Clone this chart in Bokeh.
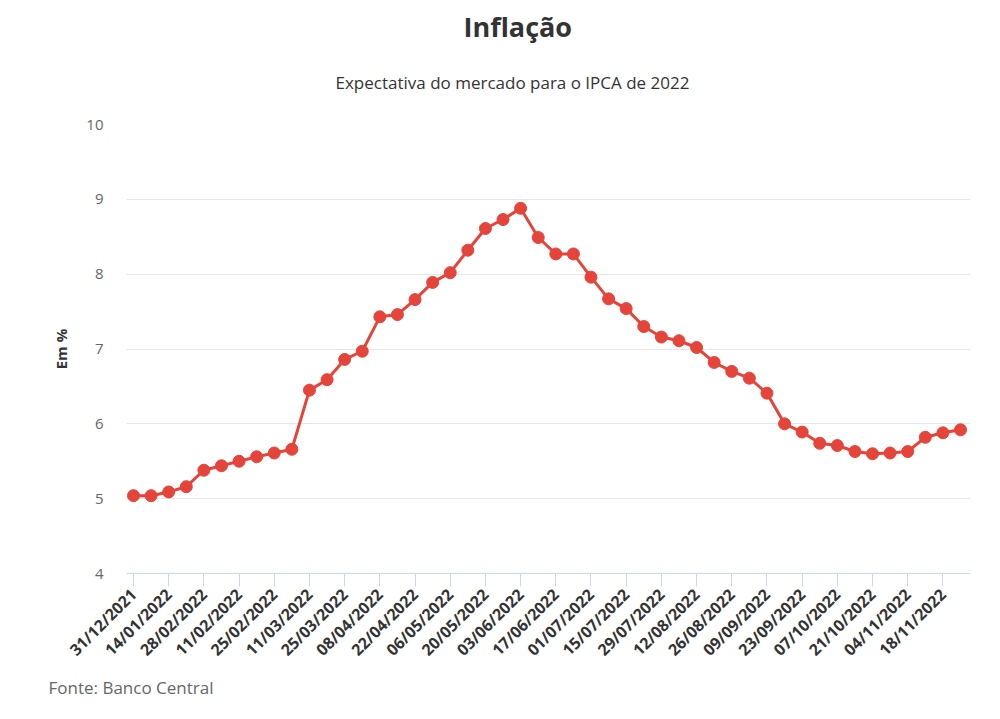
from math import pi
from bokeh.plotting import figure
from bokeh.models import Range1d, FixedTicker, Title, ColumnDataSource
from bokeh.embed import file_html
from bokeh.resources import INLINE

# Weekly market expectation for IPCA 2022 (31/12/2021 .. 25/11/2022)
week_index = list(range(48))
ipca_expect = [5.04, 5.04, 5.09, 5.16, 5.38, 5.44, 5.50, 5.56, 5.61, 5.66,
               6.45, 6.59, 6.86, 6.97, 7.43, 7.46, 7.66, 7.89, 8.02, 8.32,
               8.61, 8.73, 8.88, 8.49, 8.27, 8.27, 7.96, 7.67, 7.54, 7.30,
               7.16, 7.11, 7.02, 6.82, 6.70, 6.61, 6.41, 6.00, 5.89, 5.74,
               5.71, 5.63, 5.60, 5.61, 5.63, 5.82, 5.88, 5.92]

tick_positions = list(range(0, 48, 2))
tick_labels = ["31/12/2021", "14/01/2022", "28/02/2022", "11/02/2022", "25/02/2022",
               "11/03/2022", "25/03/2022", "08/04/2022", "22/04/2022", "06/05/2022",
               "20/05/2022", "03/06/2022", "17/06/2022", "01/07/2022", "15/07/2022",
               "29/07/2022", "12/08/2022", "26/08/2022", "09/09/2022", "23/09/2022",
               "07/10/2022", "21/10/2022", "04/11/2022", "18/11/2022"]
y_ticks = [4, 5, 6, 7, 8, 9, 10]

FONT = "Open Sans"
RED = "#e5443a"

p = figure(width=984, height=703, output_backend="svg", toolbar_location=None,
           x_range=Range1d(-0.398, 47.568), y_range=Range1d(4, 10),
           min_border_left=126, min_border_right=14, min_border_top=124,
           min_border_bottom=130, title=None)
p.outline_line_color = None
p.background_fill_color = "white"
p.border_fill_color = "white"

src = ColumnDataSource(data=dict(x=week_index, y=ipca_expect))
p.line("x", "y", source=src, line_color=RED, line_width=3)
p.scatter("x", "y", source=src, size=12, fill_color=RED, line_color=RED)

# grids
p.xgrid.grid_line_color = None
p.ygrid.grid_line_color = "#e6e6e6"
p.ygrid.grid_line_width = 1
p.ygrid.ticker = FixedTicker(ticks=y_ticks)

# x axis
xa = p.xaxis[0]
xa.ticker = FixedTicker(ticks=tick_positions)
xa.major_label_overrides = {t: l for t, l in zip(tick_positions, tick_labels)}
xa.major_label_orientation = pi / 4
xa.major_label_text_font = FONT
xa.major_label_text_font_style = "bold"
xa.major_label_text_font_size = "16px"
xa.major_label_text_color = "#333333"
xa.axis_line_color = "#ccd6eb"
xa.major_tick_line_color = "#ccd6eb"
xa.major_tick_in = 0
xa.major_tick_out = 13
xa.minor_tick_line_color = None
xa.major_label_standoff = 5

# y axis
ya = p.yaxis[0]
ya.ticker = FixedTicker(ticks=y_ticks)
ya.axis_line_color = None
ya.major_tick_line_color = None
ya.minor_tick_line_color = None
ya.major_tick_in = 0
ya.major_tick_out = 0
ya.major_label_text_font = FONT
ya.major_label_text_font_size = "15px"
ya.major_label_text_color = "#666666"
ya.major_label_standoff = 23
ya.axis_label = "Em %"
ya.axis_label_text_font = FONT
ya.axis_label_text_font_style = "bold"
ya.axis_label_text_font_size = "15px"
ya.axis_label_text_color = "#333333"
ya.axis_label_standoff = 12

# titles (first added "above" sits closest to the frame)
p.add_layout(Title(text="Expectativa do mercado para o IPCA de 2022", align="left",
                   offset=209, standoff=61, text_font=FONT, text_font_size="17px",
                   text_font_style="normal", text_color="#333333"), "above")
p.add_layout(Title(text="Inflação", align="left", offset=337, standoff=-13,
                   text_font=FONT, text_font_size="27px", text_font_style="bold",
                   text_color="#333333"), "above")
p.add_layout(Title(text="Fonte: Banco Central", align="left", offset=-78, standoff=5,
                   text_font=FONT, text_font_size="17px", text_font_style="normal",
                   text_color="#666666"), "below")

open("out.html", "w").write(file_html(p, INLINE))
